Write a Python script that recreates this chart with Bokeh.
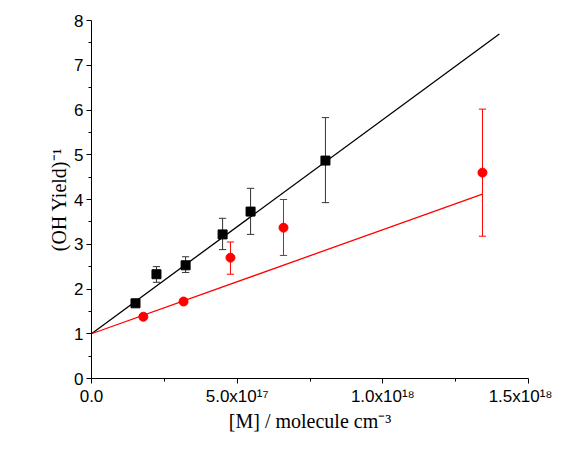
from bokeh.plotting import figure
from bokeh.models import Range1d, FixedTicker
from bokeh.embed import file_html
from bokeh.resources import INLINE

# data
bx = [1.51e17, 2.23e17, 3.23e17, 4.5e17, 5.46e17, 8.03e17]
by = [1.68, 2.33, 2.53, 3.22, 3.73, 4.87]
by_lo = [1.62, 2.15, 2.37, 2.88, 3.22, 3.93]
by_hi = [1.74, 2.50, 2.72, 3.58, 4.25, 5.83]
rx = [1.78e17, 3.16e17, 4.77e17, 6.59e17, 1.342e18]
ry = [1.38, 1.72, 2.70, 3.37, 4.60]
ry_lo = [1.33, 1.66, 2.33, 2.75, 3.18]
ry_hi = [1.43, 1.78, 3.05, 4.00, 6.02]
fit_b = [0.0, 1.4e18], [1.0, 7.70]
fit_r = [0.0, 1.342e18], [1.0, 4.12]

p = figure(width=552, height=434, output_backend="svg", toolbar_location=None,
           x_range=Range1d(0, 1.5e18), y_range=Range1d(0, 8),
           min_border_left=91, min_border_right=24, min_border_top=20, min_border_bottom=40)
p.grid.visible = False
p.outline_line_color = None

p.line(fit_b[0], fit_b[1], color="black", line_width=1.3)
p.line(fit_r[0], fit_r[1], color="red", line_width=1.3)
p.segment(bx, by_lo, bx, by_hi, color="#333333", line_width=1)
p.segment(rx, ry_lo, rx, ry_hi, color="red", line_width=1)
cap = 0.25e17
p.segment([x - cap/2 for x in bx], by_hi, [x + cap/2 for x in bx], by_hi, color="#333333")
p.segment([x - cap/2 for x in bx], by_lo, [x + cap/2 for x in bx], by_lo, color="#333333")
p.segment([x - cap/2 for x in rx], ry_hi, [x + cap/2 for x in rx], ry_hi, color="red")
p.segment([x - cap/2 for x in rx], ry_lo, [x + cap/2 for x in rx], ry_lo, color="red")
p.scatter(bx, by, marker="square", size=9, color="black")
p.scatter(rx, ry, marker="circle", size=9, color="red")

p.xaxis.ticker = FixedTicker(ticks=[0, 5e17, 1e18, 1.5e18],
                             minor_ticks=[2.5e17, 7.5e17, 1.25e18])
p.xaxis.major_label_overrides = {0: "0.0", 5e17: "5.0x10¹⁷", 1e18: "1.0x10¹⁸", 1.5e18: "1.5x10¹⁸"}
p.yaxis.ticker = FixedTicker(ticks=list(range(9)), minor_ticks=[i + 0.5 for i in range(8)])
p.xaxis.axis_label = "[M] / molecule cm⁻³"
p.yaxis.axis_label = "(OH Yield)⁻¹"
for ax in (p.xaxis, p.yaxis):
    ax.axis_label_text_font = "Liberation Serif"
    ax.axis_label_text_font_style = "normal"
    ax.axis_label_text_font_size = "20px"
    ax.axis_label_text_color = "black"
    ax.axis_label_standoff = 1
    ax.major_label_text_font = "Liberation Sans"
    ax.major_label_text_font_size = "17px"
    ax.major_label_text_color = "black"
    ax.major_label_standoff = 3
    ax.axis_line_color = "black"
    ax.major_tick_line_color = "black"
    ax.minor_tick_line_color = "black"
    ax.major_tick_out = 5
    ax.minor_tick_out = 3
    ax.major_tick_in = 0
    ax.minor_tick_in = 0

open("out.html", "w").write(file_html(p, INLINE))
